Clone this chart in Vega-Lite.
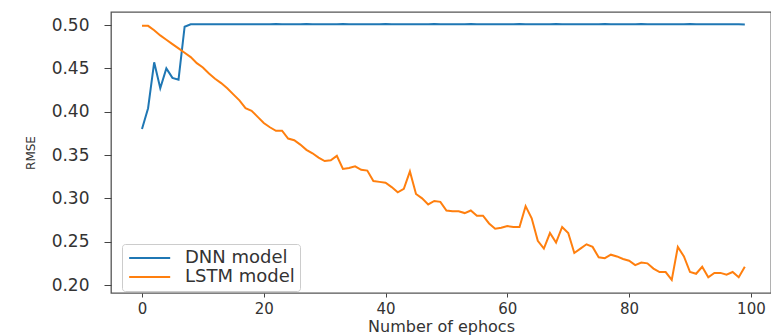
{
  "$schema": "https://vega.github.io/schema/vega-lite/v6.json",
  "width": 660,
  "height": 281,
  "autosize": {"type": "none"},
  "padding": {"left": 111, "top": 12, "right": 0, "bottom": 43},
  "background": "white",
  "config": {
    "font": "DejaVu Sans",
    "view": {"stroke": "#555", "strokeWidth": 1.3},
    "axis": {"domain": false, "grid": false, "labelColor": "#333", "tickColor": "#444", "titleColor": "#333", "titleFontWeight": "normal"}
  },
  "data": {
    "values": [
      {"e":0,"DNN model":0.380,"LSTM model":0.499},
      {"e":1,"DNN model":0.404,"LSTM model":0.499},
      {"e":2,"DNN model":0.457,"LSTM model":0.494},
      {"e":3,"DNN model":0.427,"LSTM model":0.488},
      {"e":4,"DNN model":0.450,"LSTM model":0.483},
      {"e":5,"DNN model":0.439,"LSTM model":0.478},
      {"e":6,"DNN model":0.437,"LSTM model":0.473},
      {"e":7,"DNN model":0.498,"LSTM model":0.468},
      {"e":8,"DNN model":0.5008,"LSTM model":0.463},
      {"e":9,"DNN model":0.5010,"LSTM model":0.456},
      {"e":10,"DNN model":0.5010,"LSTM model":0.451},
      {"e":11,"DNN model":0.5008,"LSTM model":0.444},
      {"e":12,"DNN model":0.5010,"LSTM model":0.438},
      {"e":13,"DNN model":0.5010,"LSTM model":0.433},
      {"e":14,"DNN model":0.5009,"LSTM model":0.427},
      {"e":15,"DNN model":0.5010,"LSTM model":0.420},
      {"e":16,"DNN model":0.5010,"LSTM model":0.413},
      {"e":17,"DNN model":0.5008,"LSTM model":0.404},
      {"e":18,"DNN model":0.5010,"LSTM model":0.401},
      {"e":19,"DNN model":0.5010,"LSTM model":0.394},
      {"e":20,"DNN model":0.5009,"LSTM model":0.387},
      {"e":21,"DNN model":0.5010,"LSTM model":0.382},
      {"e":22,"DNN model":0.5011,"LSTM model":0.378},
      {"e":23,"DNN model":0.5010,"LSTM model":0.378},
      {"e":24,"DNN model":0.5008,"LSTM model":0.369},
      {"e":25,"DNN model":0.5010,"LSTM model":0.367},
      {"e":26,"DNN model":0.5010,"LSTM model":0.362},
      {"e":27,"DNN model":0.5011,"LSTM model":0.356},
      {"e":28,"DNN model":0.5009,"LSTM model":0.352},
      {"e":29,"DNN model":0.5010,"LSTM model":0.347},
      {"e":30,"DNN model":0.5010,"LSTM model":0.343},
      {"e":31,"DNN model":0.5008,"LSTM model":0.344},
      {"e":32,"DNN model":0.5010,"LSTM model":0.349},
      {"e":33,"DNN model":0.5011,"LSTM model":0.334},
      {"e":34,"DNN model":0.5010,"LSTM model":0.335},
      {"e":35,"DNN model":0.5009,"LSTM model":0.337},
      {"e":36,"DNN model":0.5010,"LSTM model":0.333},
      {"e":37,"DNN model":0.5010,"LSTM model":0.332},
      {"e":38,"DNN model":0.5008,"LSTM model":0.320},
      {"e":39,"DNN model":0.5010,"LSTM model":0.319},
      {"e":40,"DNN model":0.5011,"LSTM model":0.318},
      {"e":41,"DNN model":0.5010,"LSTM model":0.313},
      {"e":42,"DNN model":0.5009,"LSTM model":0.307},
      {"e":43,"DNN model":0.5010,"LSTM model":0.311},
      {"e":44,"DNN model":0.5010,"LSTM model":0.331},
      {"e":45,"DNN model":0.5008,"LSTM model":0.305},
      {"e":46,"DNN model":0.5010,"LSTM model":0.300},
      {"e":47,"DNN model":0.5010,"LSTM model":0.293},
      {"e":48,"DNN model":0.5011,"LSTM model":0.297},
      {"e":49,"DNN model":0.5009,"LSTM model":0.296},
      {"e":50,"DNN model":0.5010,"LSTM model":0.286},
      {"e":51,"DNN model":0.5010,"LSTM model":0.285},
      {"e":52,"DNN model":0.5008,"LSTM model":0.285},
      {"e":53,"DNN model":0.5010,"LSTM model":0.283},
      {"e":54,"DNN model":0.5011,"LSTM model":0.286},
      {"e":55,"DNN model":0.5010,"LSTM model":0.280},
      {"e":56,"DNN model":0.5009,"LSTM model":0.280},
      {"e":57,"DNN model":0.5010,"LSTM model":0.271},
      {"e":58,"DNN model":0.5010,"LSTM model":0.265},
      {"e":59,"DNN model":0.5008,"LSTM model":0.266},
      {"e":60,"DNN model":0.5010,"LSTM model":0.268},
      {"e":61,"DNN model":0.5010,"LSTM model":0.267},
      {"e":62,"DNN model":0.5011,"LSTM model":0.267},
      {"e":63,"DNN model":0.5009,"LSTM model":0.291},
      {"e":64,"DNN model":0.5010,"LSTM model":0.277},
      {"e":65,"DNN model":0.5010,"LSTM model":0.251},
      {"e":66,"DNN model":0.5008,"LSTM model":0.242},
      {"e":67,"DNN model":0.5010,"LSTM model":0.260},
      {"e":68,"DNN model":0.5011,"LSTM model":0.249},
      {"e":69,"DNN model":0.5010,"LSTM model":0.267},
      {"e":70,"DNN model":0.5009,"LSTM model":0.260},
      {"e":71,"DNN model":0.5010,"LSTM model":0.237},
      {"e":72,"DNN model":0.5010,"LSTM model":0.242},
      {"e":73,"DNN model":0.5008,"LSTM model":0.247},
      {"e":74,"DNN model":0.5010,"LSTM model":0.244},
      {"e":75,"DNN model":0.5010,"LSTM model":0.232},
      {"e":76,"DNN model":0.5011,"LSTM model":0.231},
      {"e":77,"DNN model":0.5009,"LSTM model":0.235},
      {"e":78,"DNN model":0.5010,"LSTM model":0.233},
      {"e":79,"DNN model":0.5010,"LSTM model":0.230},
      {"e":80,"DNN model":0.5008,"LSTM model":0.228},
      {"e":81,"DNN model":0.5010,"LSTM model":0.223},
      {"e":82,"DNN model":0.5011,"LSTM model":0.226},
      {"e":83,"DNN model":0.5010,"LSTM model":0.225},
      {"e":84,"DNN model":0.5009,"LSTM model":0.219},
      {"e":85,"DNN model":0.5010,"LSTM model":0.215},
      {"e":86,"DNN model":0.5010,"LSTM model":0.215},
      {"e":87,"DNN model":0.5008,"LSTM model":0.206},
      {"e":88,"DNN model":0.5010,"LSTM model":0.244},
      {"e":89,"DNN model":0.5010,"LSTM model":0.233},
      {"e":90,"DNN model":0.5011,"LSTM model":0.215},
      {"e":91,"DNN model":0.5009,"LSTM model":0.213},
      {"e":92,"DNN model":0.5010,"LSTM model":0.221},
      {"e":93,"DNN model":0.5010,"LSTM model":0.209},
      {"e":94,"DNN model":0.5008,"LSTM model":0.214},
      {"e":95,"DNN model":0.5010,"LSTM model":0.214},
      {"e":96,"DNN model":0.5010,"LSTM model":0.212},
      {"e":97,"DNN model":0.5009,"LSTM model":0.215},
      {"e":98,"DNN model":0.5008,"LSTM model":0.209},
      {"e":99,"DNN model":0.5006,"LSTM model":0.221}
    ]
  },
  "transform": [
    {"fold": ["DNN model", "LSTM model"], "as": ["model", "rmse"]}
  ],
  "mark": {"type": "line", "strokeWidth": 2, "clip": true},
  "encoding": {
    "x": {
      "field": "e", "type": "quantitative",
      "scale": {"domain": [-5.09, 103.3], "nice": false, "zero": false},
      "axis": {"title": "Number of ephocs", "values": [0, 20, 40, 60, 80, 100], "tickSize": 4, "labelFontSize": 15, "labelPadding": 4, "titleFontSize": 16, "titlePadding": 2, "labelFlush": false}
    },
    "y": {
      "field": "rmse", "type": "quantitative",
      "scale": {"domain": [0.1908, 0.515], "nice": false, "zero": false},
      "axis": {"title": "RMSE", "values": [0.2, 0.25, 0.3, 0.35, 0.4, 0.45, 0.5], "format": ".2f", "tickSize": 7, "labelFontSize": 17, "labelPadding": 15, "titleFontSize": 12, "titlePadding": 14}
    },
    "color": {
      "field": "model", "type": "nominal",
      "scale": {"domain": ["DNN model", "LSTM model"], "range": ["#1f77b4", "#ff7f0e"]},
      "legend": {
        "title": null, "orient": "none", "legendX": 11, "legendY": 232,
        "symbolType": "M-1,0H5", "symbolSize": 187, "symbolStrokeWidth": 2,
        "labelFontSize": 18, "labelColor": "#333", "labelOffset": 40,
        "rowPadding": 1, "padding": 5, "strokeColor": "#ccc", "fillColor": "white", "cornerRadius": 3
      }
    }
  }
}
